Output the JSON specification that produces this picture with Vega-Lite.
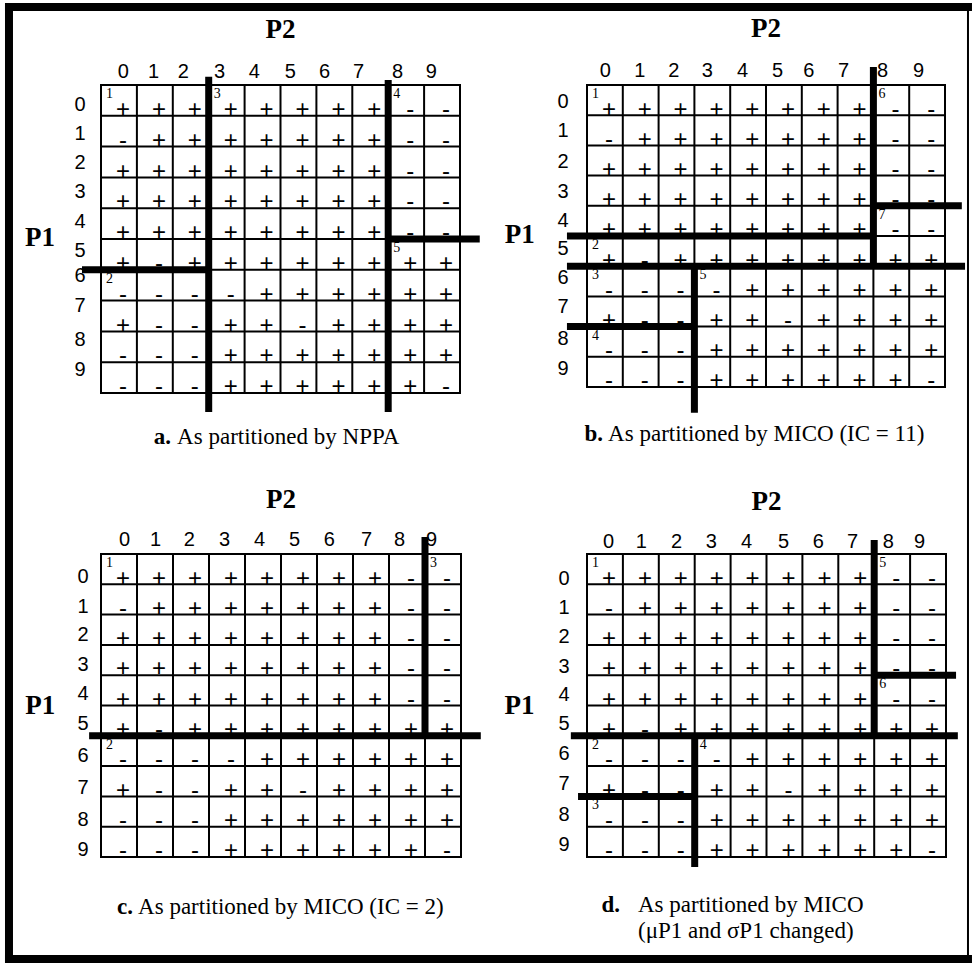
{
"$schema": "https://vega.github.io/schema/vega-lite/v6.json",
"padding": {"left": 3, "top": 1, "right": 0, "bottom": 0},
"background": "white",
"columns": 2,
"spacing": {"row": 161, "column": 126},
"bounds": "flush",
"datasets": {
"gridlines": [{"v":0},{"v":1},{"v":2},{"v":3},{"v":4},{"v":5},{"v":6},{"v":7},{"v":8},{"v":9},{"v":10}],
"axistitles": [{"name":"P2"},{"name":"P1"}],
"cells": [
{"row":0,"col":0,"sign":"+"},{"row":0,"col":1,"sign":"+"},{"row":0,"col":2,"sign":"+"},{"row":0,"col":3,"sign":"+"},{"row":0,"col":4,"sign":"+"},{"row":0,"col":5,"sign":"+"},{"row":0,"col":6,"sign":"+"},{"row":0,"col":7,"sign":"+"},{"row":0,"col":8,"sign":"-"},{"row":0,"col":9,"sign":"-"},
{"row":1,"col":0,"sign":"-"},{"row":1,"col":1,"sign":"+"},{"row":1,"col":2,"sign":"+"},{"row":1,"col":3,"sign":"+"},{"row":1,"col":4,"sign":"+"},{"row":1,"col":5,"sign":"+"},{"row":1,"col":6,"sign":"+"},{"row":1,"col":7,"sign":"+"},{"row":1,"col":8,"sign":"-"},{"row":1,"col":9,"sign":"-"},
{"row":2,"col":0,"sign":"+"},{"row":2,"col":1,"sign":"+"},{"row":2,"col":2,"sign":"+"},{"row":2,"col":3,"sign":"+"},{"row":2,"col":4,"sign":"+"},{"row":2,"col":5,"sign":"+"},{"row":2,"col":6,"sign":"+"},{"row":2,"col":7,"sign":"+"},{"row":2,"col":8,"sign":"-"},{"row":2,"col":9,"sign":"-"},
{"row":3,"col":0,"sign":"+"},{"row":3,"col":1,"sign":"+"},{"row":3,"col":2,"sign":"+"},{"row":3,"col":3,"sign":"+"},{"row":3,"col":4,"sign":"+"},{"row":3,"col":5,"sign":"+"},{"row":3,"col":6,"sign":"+"},{"row":3,"col":7,"sign":"+"},{"row":3,"col":8,"sign":"-"},{"row":3,"col":9,"sign":"-"},
{"row":4,"col":0,"sign":"+"},{"row":4,"col":1,"sign":"+"},{"row":4,"col":2,"sign":"+"},{"row":4,"col":3,"sign":"+"},{"row":4,"col":4,"sign":"+"},{"row":4,"col":5,"sign":"+"},{"row":4,"col":6,"sign":"+"},{"row":4,"col":7,"sign":"+"},{"row":4,"col":8,"sign":"-"},{"row":4,"col":9,"sign":"-"},
{"row":5,"col":0,"sign":"+"},{"row":5,"col":1,"sign":"-"},{"row":5,"col":2,"sign":"+"},{"row":5,"col":3,"sign":"+"},{"row":5,"col":4,"sign":"+"},{"row":5,"col":5,"sign":"+"},{"row":5,"col":6,"sign":"+"},{"row":5,"col":7,"sign":"+"},{"row":5,"col":8,"sign":"+"},{"row":5,"col":9,"sign":"+"},
{"row":6,"col":0,"sign":"-"},{"row":6,"col":1,"sign":"-"},{"row":6,"col":2,"sign":"-"},{"row":6,"col":3,"sign":"-"},{"row":6,"col":4,"sign":"+"},{"row":6,"col":5,"sign":"+"},{"row":6,"col":6,"sign":"+"},{"row":6,"col":7,"sign":"+"},{"row":6,"col":8,"sign":"+"},{"row":6,"col":9,"sign":"+"},
{"row":7,"col":0,"sign":"+"},{"row":7,"col":1,"sign":"-"},{"row":7,"col":2,"sign":"-"},{"row":7,"col":3,"sign":"+"},{"row":7,"col":4,"sign":"+"},{"row":7,"col":5,"sign":"-"},{"row":7,"col":6,"sign":"+"},{"row":7,"col":7,"sign":"+"},{"row":7,"col":8,"sign":"+"},{"row":7,"col":9,"sign":"+"},
{"row":8,"col":0,"sign":"-"},{"row":8,"col":1,"sign":"-"},{"row":8,"col":2,"sign":"-"},{"row":8,"col":3,"sign":"+"},{"row":8,"col":4,"sign":"+"},{"row":8,"col":5,"sign":"+"},{"row":8,"col":6,"sign":"+"},{"row":8,"col":7,"sign":"+"},{"row":8,"col":8,"sign":"+"},{"row":8,"col":9,"sign":"+"},
{"row":9,"col":0,"sign":"-"},{"row":9,"col":1,"sign":"-"},{"row":9,"col":2,"sign":"-"},{"row":9,"col":3,"sign":"+"},{"row":9,"col":4,"sign":"+"},{"row":9,"col":5,"sign":"+"},{"row":9,"col":6,"sign":"+"},{"row":9,"col":7,"sign":"+"},{"row":9,"col":8,"sign":"+"},{"row":9,"col":9,"sign":"-"}
],
"regions": [
{"panel":"a","row":0,"col":0,"label":"1"},{"panel":"a","row":6,"col":0,"label":"2"},{"panel":"a","row":0,"col":3,"label":"3"},{"panel":"a","row":0,"col":8,"label":"4"},{"panel":"a","row":5,"col":8,"label":"5"},
{"panel":"b","row":0,"col":0,"label":"1"},{"panel":"b","row":5,"col":0,"label":"2"},{"panel":"b","row":6,"col":0,"label":"3"},{"panel":"b","row":8,"col":0,"label":"4"},{"panel":"b","row":6,"col":3,"label":"5"},{"panel":"b","row":0,"col":8,"label":"6"},{"panel":"b","row":4,"col":8,"label":"7"},
{"panel":"c","row":0,"col":0,"label":"1"},{"panel":"c","row":6,"col":0,"label":"2"},{"panel":"c","row":0,"col":9,"label":"3"},
{"panel":"d","row":0,"col":0,"label":"1"},{"panel":"d","row":6,"col":0,"label":"2"},{"panel":"d","row":8,"col":0,"label":"3"},{"panel":"d","row":6,"col":3,"label":"4"},{"panel":"d","row":0,"col":8,"label":"5"},{"panel":"d","row":4,"col":8,"label":"6"}
],
"cuts": [
{"panel":"a","x":3,"x2":3,"y":-0.27,"y2":10.62},
{"panel":"a","x":8,"x2":8,"y":-0.16,"y2":10.62},
{"panel":"a","x":-0.53,"x2":3,"y":6,"y2":6},
{"panel":"a","x":8,"x2":10.55,"y":5,"y2":5},
{"panel":"b","x":8,"x2":8,"y":-0.6,"y2":6},
{"panel":"b","x":8,"x2":10.47,"y":4,"y2":4},
{"panel":"b","x":-0.56,"x2":8,"y":5,"y2":5},
{"panel":"b","x":-0.56,"x2":10.56,"y":6,"y2":6},
{"panel":"b","x":3,"x2":3,"y":6,"y2":10.85},
{"panel":"b","x":-0.56,"x2":3,"y":8,"y2":8},
{"panel":"c","x":9,"x2":9,"y":-0.56,"y2":6},
{"panel":"c","x":-0.33,"x2":10.55,"y":6,"y2":6},
{"panel":"d","x":8,"x2":8,"y":-0.46,"y2":6},
{"panel":"d","x":8,"x2":10.28,"y":4,"y2":4},
{"panel":"d","x":-0.45,"x2":10.33,"y":6,"y2":6},
{"panel":"d","x":3,"x2":3,"y":6,"y2":10.33},
{"panel":"d","x":-0.25,"x2":3,"y":8,"y2":8}
],
"captions": [
{"panel":"a","tag":"a.","text":"As partitioned by NPPA"},
{"panel":"b","tag":"b.","text":"As partitioned by MICO (IC = 11)"},
{"panel":"c","tag":"c.","text":"As partitioned by MICO (IC = 2)"},
{"panel":"d","tag":"d.","text":"As partitioned by MICO\n(μP1 and σP1 changed)"}
],
"frame": [
{"side":"top","x":-2.563,"x2":24.15,"y":-2.532,"y2":-2.532},
{"side":"left","x":-2.563,"x2":-2.563,"y":-2.532,"y2":28.377},
{"side":"bottom","x":-2.563,"x2":24.15,"y":28.377,"y2":28.377},
{"side":"right","x":24.15,"x2":24.15,"y":-2.532,"y2":28.377}
]
},
"concat": [
{
"width": 359, "height": 308,
"resolve": {"axis": {"x": "independent", "y": "independent"}},
"layer": [
{"data":{"name":"gridlines"},"mark":{"type":"rule","color":"black","strokeWidth":2,"strokeCap":"square"},
"encoding":{
"x":{"field":"v","type":"quantitative","scale":{"domain":[0,10],"nice":false,"zero":false},
"axis":{"orient":"top","values":[0.61,1.45,2.28,3.29,4.26,5.26,6.21,7.16,8.25,9.19],"labelExpr":"''+floor(datum.value)","labelOverlap":false,"labelFlush":false,"labelFont":"Liberation Sans","labelFontSize":20,"labelColor":"black","labelPadding":8,"labelBaseline":"alphabetic","title":null}},
"y":{"datum":0,"type":"quantitative","scale":{"domain":[0,10],"nice":false,"zero":false,"reverse":true},
"axis":{"orient":"left","values":[0.62,1.56,2.5,3.47,4.42,5.36,6.2,7.17,8.25,9.25],"labelExpr":"''+floor(datum.value)","labelOverlap":false,"labelFlush":false,"labelFont":"Liberation Sans","labelFontSize":20,"labelColor":"black","labelPadding":16,"labelBaseline":"middle","title":null}},
"y2":{"datum":10}}},
{"data":{"name":"gridlines"},"mark":{"type":"rule","color":"black","strokeWidth":2,"strokeCap":"square"},
"encoding":{"y":{"field":"v","type":"quantitative","axis":null},"x":{"datum":0,"type":"quantitative","axis":null},"x2":{"datum":10}}},
{"data":{"name":"cells"},"mark":{"type":"text","font":"Liberation Sans","fontSize":24,"align":"center","baseline":"alphabetic","dx":22,"dy":32,"color":"black"},
"encoding":{"x":{"field":"col","type":"quantitative","axis":null},"y":{"field":"row","type":"quantitative","axis":null},"text":{"field":"sign","type":"nominal"}}},
{"data":{"name":"regions"},"transform":[{"filter":"datum.panel==='a'"}],"mark":{"type":"text","font":"Liberation Serif","fontSize":14,"align":"left","baseline":"top","dx":5,"dy":2,"color":"black"},
"encoding":{"x":{"field":"col","type":"quantitative","axis":null},"y":{"field":"row","type":"quantitative","axis":null},"text":{"field":"label","type":"nominal"}}},
{"data":{"name":"cuts"},"transform":[{"filter":"datum.panel==='a'"}],"mark":{"type":"rule","color":"black","strokeWidth":7},
"encoding":{"x":{"field":"x","type":"quantitative","axis":null},"x2":{"field":"x2"},"y":{"field":"y","type":"quantitative","axis":null},"y2":{"field":"y2"}}},
{"data":{"name":"axistitles"},"transform":[{"filter":"datum.name==='P2'"}],"mark":{"type":"text","font":"Liberation Serif","fontSize":27,"fontWeight":"bold","align":"center","baseline":"alphabetic","color":"black"},
"encoding":{"x":{"datum":5,"type":"quantitative","axis":null},"y":{"datum":-1.53,"type":"quantitative","axis":null},"text":{"field":"name","type":"nominal"}}},
{"data":{"name":"axistitles"},"transform":[{"filter":"datum.name==='P1'"}],"mark":{"type":"text","font":"Liberation Serif","fontSize":27,"fontWeight":"bold","align":"center","baseline":"middle","color":"black"},
"encoding":{"x":{"datum":-1.7,"type":"quantitative","axis":null},"y":{"datum":4.97,"type":"quantitative","axis":null},"text":{"field":"name","type":"nominal"}}},
{"data":{"name":"captions"},"transform":[{"filter":"datum.panel==='a'"}],"mark":{"type":"text","font":"Liberation Serif","fontSize":23,"align":"left","baseline":"alphabetic","lineBreak":"\n","lineHeight":27,"color":"black"},
"encoding":{"x":{"datum":2.12,"type":"quantitative","axis":null},"y":{"datum":11.66,"type":"quantitative","axis":null},"text":{"field":"text","type":"nominal"}}},
{"data":{"name":"captions"},"transform":[{"filter":"datum.panel==='a'"}],"mark":{"type":"text","font":"Liberation Serif","fontSize":23,"fontWeight":"bold","align":"right","baseline":"alphabetic","dx":-6,"color":"black"},
"encoding":{"x":{"datum":2.12,"type":"quantitative","axis":null},"y":{"datum":11.66,"type":"quantitative","axis":null},"text":{"field":"tag","type":"nominal"}}},
{"data":{"name":"frame"},"transform":[{"filter":"datum.side!=='right'"}],"mark":{"type":"rule","color":"black","strokeWidth":8,"strokeCap":"square"},
"encoding":{"x":{"field":"x","type":"quantitative","axis":null},"x2":{"field":"x2"},"y":{"field":"y","type":"quantitative","axis":null},"y2":{"field":"y2"}}},
{"data":{"name":"frame"},"transform":[{"filter":"datum.side==='right'"}],"mark":{"type":"rule","color":"black","strokeWidth":2},
"encoding":{"x":{"field":"x","type":"quantitative","axis":null},"x2":{"field":"x2"},"y":{"field":"y","type":"quantitative","axis":null},"y2":{"field":"y2"}}}
]
},
{
"width": 358, "height": 302,
"resolve": {"axis": {"x": "independent", "y": "independent"}},
"layer": [
{"data":{"name":"gridlines"},"mark":{"type":"rule","color":"black","strokeWidth":2,"strokeCap":"square"},
"encoding":{
"x":{"field":"v","type":"quantitative","scale":{"domain":[0,10],"nice":false,"zero":false},
"axis":{"orient":"top","values":[0.5,1.46,2.41,3.35,4.33,5.31,6.18,7.15,8.24,9.25],"labelExpr":"''+floor(datum.value)","labelOverlap":false,"labelFlush":false,"labelFont":"Liberation Sans","labelFontSize":20,"labelColor":"black","labelPadding":9,"labelBaseline":"alphabetic","title":null}},
"y":{"datum":0,"type":"quantitative","scale":{"domain":[0,10],"nice":false,"zero":false,"reverse":true},
"axis":{"orient":"left","values":[0.55,1.5,2.52,3.53,4.49,5.4,6.37,7.35,8.4,9.4],"labelExpr":"''+floor(datum.value)","labelOverlap":false,"labelFlush":false,"labelFont":"Liberation Sans","labelFontSize":20,"labelColor":"black","labelPadding":19,"labelBaseline":"middle","title":null}},
"y2":{"datum":10}}},
{"data":{"name":"gridlines"},"mark":{"type":"rule","color":"black","strokeWidth":2,"strokeCap":"square"},
"encoding":{"y":{"field":"v","type":"quantitative","axis":null},"x":{"datum":0,"type":"quantitative","axis":null},"x2":{"datum":10}}},
{"data":{"name":"cells"},"mark":{"type":"text","font":"Liberation Sans","fontSize":24,"align":"center","baseline":"alphabetic","dx":22,"dy":31.5,"color":"black"},
"encoding":{"x":{"field":"col","type":"quantitative","axis":null},"y":{"field":"row","type":"quantitative","axis":null},"text":{"field":"sign","type":"nominal"}}},
{"data":{"name":"regions"},"transform":[{"filter":"datum.panel==='b'"}],"mark":{"type":"text","font":"Liberation Serif","fontSize":14,"align":"left","baseline":"top","dx":5,"dy":2,"color":"black"},
"encoding":{"x":{"field":"col","type":"quantitative","axis":null},"y":{"field":"row","type":"quantitative","axis":null},"text":{"field":"label","type":"nominal"}}},
{"data":{"name":"cuts"},"transform":[{"filter":"datum.panel==='b'"}],"mark":{"type":"rule","color":"black","strokeWidth":7},
"encoding":{"x":{"field":"x","type":"quantitative","axis":null},"x2":{"field":"x2"},"y":{"field":"y","type":"quantitative","axis":null},"y2":{"field":"y2"}}},
{"data":{"name":"axistitles"},"transform":[{"filter":"datum.name==='P2'"}],"mark":{"type":"text","font":"Liberation Serif","fontSize":27,"fontWeight":"bold","align":"center","baseline":"alphabetic","color":"black"},
"encoding":{"x":{"datum":5,"type":"quantitative","axis":null},"y":{"datum":-1.59,"type":"quantitative","axis":null},"text":{"field":"name","type":"nominal"}}},
{"data":{"name":"axistitles"},"transform":[{"filter":"datum.name==='P1'"}],"mark":{"type":"text","font":"Liberation Serif","fontSize":27,"fontWeight":"bold","align":"center","baseline":"middle","color":"black"},
"encoding":{"x":{"datum":-1.88,"type":"quantitative","axis":null},"y":{"datum":4.97,"type":"quantitative","axis":null},"text":{"field":"name","type":"nominal"}}},
{"data":{"name":"captions"},"transform":[{"filter":"datum.panel==='b'"}],"mark":{"type":"text","font":"Liberation Serif","fontSize":23,"align":"left","baseline":"alphabetic","lineBreak":"\n","lineHeight":27,"color":"black"},
"encoding":{"x":{"datum":0.59,"type":"quantitative","axis":null},"y":{"datum":11.79,"type":"quantitative","axis":null},"text":{"field":"text","type":"nominal"}}},
{"data":{"name":"captions"},"transform":[{"filter":"datum.panel==='b'"}],"mark":{"type":"text","font":"Liberation Serif","fontSize":23,"fontWeight":"bold","align":"right","baseline":"alphabetic","dx":-5,"color":"black"},
"encoding":{"x":{"datum":0.59,"type":"quantitative","axis":null},"y":{"datum":11.79,"type":"quantitative","axis":null},"text":{"field":"tag","type":"nominal"}}}
]
},
{
"width": 360, "height": 303,
"resolve": {"axis": {"x": "independent", "y": "independent"}},
"layer": [
{"data":{"name":"gridlines"},"mark":{"type":"rule","color":"black","strokeWidth":2,"strokeCap":"square"},
"encoding":{
"x":{"field":"v","type":"quantitative","scale":{"domain":[0,10],"nice":false,"zero":false},
"axis":{"orient":"top","values":[0.64,1.5,2.44,3.42,4.39,5.36,6.33,7.36,8.28,9.17],"labelExpr":"''+floor(datum.value)","labelOverlap":false,"labelFlush":false,"labelFont":"Liberation Sans","labelFontSize":20,"labelColor":"black","labelPadding":9,"labelBaseline":"alphabetic","title":null}},
"y":{"datum":0,"type":"quantitative","scale":{"domain":[0,10],"nice":false,"zero":false,"reverse":true},
"axis":{"orient":"left","values":[0.74,1.72,2.67,3.66,4.6,5.6,6.65,7.7,8.76,9.75],"labelExpr":"''+floor(datum.value)","labelOverlap":false,"labelFlush":false,"labelFont":"Liberation Sans","labelFontSize":20,"labelColor":"black","labelPadding":13,"labelBaseline":"middle","title":null}},
"y2":{"datum":10}}},
{"data":{"name":"gridlines"},"mark":{"type":"rule","color":"black","strokeWidth":2,"strokeCap":"square"},
"encoding":{"y":{"field":"v","type":"quantitative","axis":null},"x":{"datum":0,"type":"quantitative","axis":null},"x2":{"datum":10}}},
{"data":{"name":"cells"},"mark":{"type":"text","font":"Liberation Sans","fontSize":24,"align":"center","baseline":"alphabetic","dx":22,"dy":31.5,"color":"black"},
"encoding":{"x":{"field":"col","type":"quantitative","axis":null},"y":{"field":"row","type":"quantitative","axis":null},"text":{"field":"sign","type":"nominal"}}},
{"data":{"name":"regions"},"transform":[{"filter":"datum.panel==='c'"}],"mark":{"type":"text","font":"Liberation Serif","fontSize":14,"align":"left","baseline":"top","dx":5,"dy":2,"color":"black"},
"encoding":{"x":{"field":"col","type":"quantitative","axis":null},"y":{"field":"row","type":"quantitative","axis":null},"text":{"field":"label","type":"nominal"}}},
{"data":{"name":"cuts"},"transform":[{"filter":"datum.panel==='c'"}],"mark":{"type":"rule","color":"black","strokeWidth":7},
"encoding":{"x":{"field":"x","type":"quantitative","axis":null},"x2":{"field":"x2"},"y":{"field":"y","type":"quantitative","axis":null},"y2":{"field":"y2"}}},
{"data":{"name":"axistitles"},"transform":[{"filter":"datum.name==='P2'"}],"mark":{"type":"text","font":"Liberation Serif","fontSize":27,"fontWeight":"bold","align":"center","baseline":"alphabetic","color":"black"},
"encoding":{"x":{"datum":5,"type":"quantitative","axis":null},"y":{"datum":-1.52,"type":"quantitative","axis":null},"text":{"field":"name","type":"nominal"}}},
{"data":{"name":"axistitles"},"transform":[{"filter":"datum.name==='P1'"}],"mark":{"type":"text","font":"Liberation Serif","fontSize":27,"fontWeight":"bold","align":"center","baseline":"middle","color":"black"},
"encoding":{"x":{"datum":-1.69,"type":"quantitative","axis":null},"y":{"datum":5.0,"type":"quantitative","axis":null},"text":{"field":"name","type":"nominal"}}},
{"data":{"name":"captions"},"transform":[{"filter":"datum.panel==='c'"}],"mark":{"type":"text","font":"Liberation Serif","fontSize":23,"align":"left","baseline":"alphabetic","lineBreak":"\n","lineHeight":27,"color":"black"},
"encoding":{"x":{"datum":1.03,"type":"quantitative","axis":null},"y":{"datum":11.88,"type":"quantitative","axis":null},"text":{"field":"text","type":"nominal"}}},
{"data":{"name":"captions"},"transform":[{"filter":"datum.panel==='c'"}],"mark":{"type":"text","font":"Liberation Serif","fontSize":23,"fontWeight":"bold","align":"right","baseline":"alphabetic","dx":-5,"color":"black"},
"encoding":{"x":{"datum":1.03,"type":"quantitative","axis":null},"y":{"datum":11.88,"type":"quantitative","axis":null},"text":{"field":"tag","type":"nominal"}}}
]
},
{
"width": 359, "height": 303,
"resolve": {"axis": {"x": "independent", "y": "independent"}},
"layer": [
{"data":{"name":"gridlines"},"mark":{"type":"rule","color":"black","strokeWidth":2,"strokeCap":"square"},
"encoding":{
"x":{"field":"v","type":"quantitative","scale":{"domain":[0,10],"nice":false,"zero":false},
"axis":{"orient":"top","values":[0.59,1.5,2.48,3.45,4.43,5.46,6.43,7.38,8.38,9.25],"labelExpr":"''+floor(datum.value)","labelOverlap":false,"labelFlush":false,"labelFont":"Liberation Sans","labelFontSize":20,"labelColor":"black","labelPadding":7,"labelBaseline":"alphabetic","title":null}},
"y":{"datum":0,"type":"quantitative","scale":{"domain":[0,10],"nice":false,"zero":false,"reverse":true},
"axis":{"orient":"left","values":[0.81,1.77,2.72,3.71,4.65,5.6,6.58,7.57,8.61,9.6],"labelExpr":"''+floor(datum.value)","labelOverlap":false,"labelFlush":false,"labelFont":"Liberation Sans","labelFontSize":20,"labelColor":"black","labelPadding":18,"labelBaseline":"middle","title":null}},
"y2":{"datum":10}}},
{"data":{"name":"gridlines"},"mark":{"type":"rule","color":"black","strokeWidth":2,"strokeCap":"square"},
"encoding":{"y":{"field":"v","type":"quantitative","axis":null},"x":{"datum":0,"type":"quantitative","axis":null},"x2":{"datum":10}}},
{"data":{"name":"cells"},"mark":{"type":"text","font":"Liberation Sans","fontSize":24,"align":"center","baseline":"alphabetic","dx":22,"dy":31.5,"color":"black"},
"encoding":{"x":{"field":"col","type":"quantitative","axis":null},"y":{"field":"row","type":"quantitative","axis":null},"text":{"field":"sign","type":"nominal"}}},
{"data":{"name":"regions"},"transform":[{"filter":"datum.panel==='d'"}],"mark":{"type":"text","font":"Liberation Serif","fontSize":14,"align":"left","baseline":"top","dx":5,"dy":2,"color":"black"},
"encoding":{"x":{"field":"col","type":"quantitative","axis":null},"y":{"field":"row","type":"quantitative","axis":null},"text":{"field":"label","type":"nominal"}}},
{"data":{"name":"cuts"},"transform":[{"filter":"datum.panel==='d'"}],"mark":{"type":"rule","color":"black","strokeWidth":7},
"encoding":{"x":{"field":"x","type":"quantitative","axis":null},"x2":{"field":"x2"},"y":{"field":"y","type":"quantitative","axis":null},"y2":{"field":"y2"}}},
{"data":{"name":"axistitles"},"transform":[{"filter":"datum.name==='P2'"}],"mark":{"type":"text","font":"Liberation Serif","fontSize":27,"fontWeight":"bold","align":"center","baseline":"alphabetic","color":"black"},
"encoding":{"x":{"datum":5,"type":"quantitative","axis":null},"y":{"datum":-1.45,"type":"quantitative","axis":null},"text":{"field":"name","type":"nominal"}}},
{"data":{"name":"axistitles"},"transform":[{"filter":"datum.name==='P1'"}],"mark":{"type":"text","font":"Liberation Serif","fontSize":27,"fontWeight":"bold","align":"center","baseline":"middle","color":"black"},
"encoding":{"x":{"datum":-1.88,"type":"quantitative","axis":null},"y":{"datum":5.0,"type":"quantitative","axis":null},"text":{"field":"name","type":"nominal"}}},
{"data":{"name":"captions"},"transform":[{"filter":"datum.panel==='d'"}],"mark":{"type":"text","font":"Liberation Serif","fontSize":23,"align":"left","baseline":"alphabetic","lineBreak":"\n","lineHeight":26,"color":"black"},
"encoding":{"x":{"datum":1.42,"type":"quantitative","axis":null},"y":{"datum":11.81,"type":"quantitative","axis":null},"text":{"field":"text","type":"nominal"}}},
{"data":{"name":"captions"},"transform":[{"filter":"datum.panel==='d'"}],"mark":{"type":"text","font":"Liberation Serif","fontSize":23,"fontWeight":"bold","align":"right","baseline":"alphabetic","dx":-18,"color":"black"},
"encoding":{"x":{"datum":1.42,"type":"quantitative","axis":null},"y":{"datum":11.81,"type":"quantitative","axis":null},"text":{"field":"tag","type":"nominal"}}}
]
}
],
"config": {
"view": {"stroke": null},
"axis": {"domain": false, "ticks": false, "tickSize": 0, "grid": false, "labelOverlap": false}
}
}
